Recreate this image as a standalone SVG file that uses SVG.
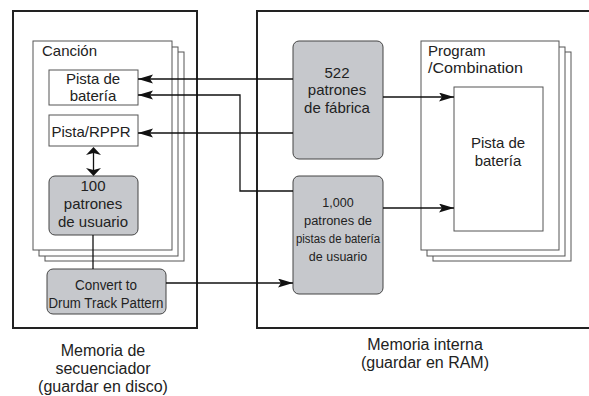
<svg xmlns="http://www.w3.org/2000/svg" width="589" height="396" viewBox="0 0 589 396">
<defs>
<marker id="ah" markerUnits="userSpaceOnUse" markerWidth="16" markerHeight="10" refX="15" refY="4.5" orient="auto">
<path d="M0,0 L15,4.5 L0,9 L3,4.5 Z" fill="#111"/>
</marker>
</defs>
<style>
.outer{fill:#fff;stroke:#222;stroke-width:2}
.sheet{fill:#fff;stroke:#555;stroke-width:1}
.box{fill:#fff;stroke:#555;stroke-width:1}
.gray{fill:#c6c8cc;stroke:#444;stroke-width:1}
.ln{fill:none;stroke:#111;stroke-width:1.3}
text{font-family:"Liberation Sans",Arial,sans-serif;fill:#222}
.t15{font-size:15px;text-anchor:middle}
.t14{font-size:14px;text-anchor:middle}
.t16{font-size:16px;text-anchor:middle}
.t12{font-size:12.5px;text-anchor:middle}
.lft{font-size:15px}
</style>
<rect width="589" height="396" fill="#fff"/>
<g id="seqmem">
<rect class="outer" x="13" y="11" width="184" height="317"/>
</g>
<g id="intmem">
<rect class="outer" x="257" y="11" width="345" height="317"/>
</g>
<g id="cancion">
<rect class="sheet" x="45" y="52" width="139" height="209"/>
<rect class="sheet" x="39" y="47" width="139" height="209"/>
<rect class="sheet" x="33" y="41" width="139" height="209"/>
<text class="lft" x="42" y="56">Canción</text>
</g>
<g id="pista-bateria">
<rect class="box" x="49" y="70" width="89" height="35"/>
<text class="t15"><tspan x="93" y="84">Pista de</tspan><tspan x="93" y="101">batería</tspan></text>
</g>
<g id="pista-rppr">
<rect class="box" x="49" y="115" width="89" height="31"/>
<text class="t15" x="91" y="137">Pista/RPPR</text>
</g>
<g id="patrones-usuario">
<rect class="gray" x="49" y="176" width="89" height="59" rx="6"/>
<text class="t15"><tspan x="93" y="191">100</tspan><tspan x="93" y="209">patrones</tspan><tspan x="93" y="227">de usuario</tspan></text>
</g>
<g id="convert">
<rect class="gray" x="47" y="269" width="119" height="45" rx="6"/>
<text class="t14"><tspan x="106" y="290" textLength="62" lengthAdjust="spacingAndGlyphs">Convert to</tspan><tspan x="106" y="308" textLength="115" lengthAdjust="spacingAndGlyphs">Drum Track Pattern</tspan></text>
</g>
<g id="fabrica">
<rect class="gray" x="293" y="41" width="90" height="118" rx="6"/>
<text class="t15"><tspan x="337" y="78">522</tspan><tspan x="337" y="95">patrones</tspan><tspan x="337" y="113">de fábrica</tspan></text>
</g>
<g id="pistas-usuario">
<rect class="gray" x="293" y="176" width="90" height="118" rx="6"/>
<text class="t12"><tspan x="338" y="207">1,000</tspan><tspan x="338" y="225" textLength="68" lengthAdjust="spacingAndGlyphs">patrones de</tspan><tspan x="338" y="243" textLength="84" lengthAdjust="spacingAndGlyphs">pistas de batería</tspan><tspan x="338" y="261">de usuario</tspan></text>
</g>
<g id="program">
<rect class="sheet" x="433" y="52" width="138" height="209"/>
<rect class="sheet" x="427" y="47" width="138" height="209"/>
<rect class="sheet" x="421" y="41" width="138" height="209"/>
<text class="lft"><tspan x="428" y="56">Program</tspan><tspan x="428" y="73" textLength="95" lengthAdjust="spacingAndGlyphs">/Combination</tspan></text>
</g>
<g id="prog-pista">
<rect class="box" x="454" y="87" width="89" height="144"/>
<text class="t15"><tspan x="498" y="148">Pista de</tspan><tspan x="498" y="166">batería</tspan></text>
</g>
<g id="connectors">
<line class="ln" x1="293" y1="79" x2="138" y2="79" marker-end="url(#ah)"/>
<polyline class="ln" points="293,191 240,191 240,95 138,95" marker-end="url(#ah)"/>
<line class="ln" x1="293" y1="133" x2="138" y2="133" marker-end="url(#ah)"/>
<line class="ln" x1="383" y1="97" x2="454" y2="97" marker-end="url(#ah)"/>
<line class="ln" x1="383" y1="208" x2="454" y2="208" marker-end="url(#ah)"/>
<line class="ln" x1="166" y1="283" x2="293" y2="283" marker-end="url(#ah)"/>
<line class="ln" x1="93" y1="235" x2="93" y2="269"/>
<line class="ln" x1="93.5" y1="152" x2="93.5" y2="171"/>
<path d="M86,155 L93.5,147 L101,155 L93.5,153 Z" fill="#111"/>
<path d="M86,168 L93.5,176 L101,168 L93.5,170 Z" fill="#111"/>
</g>
<g id="labels">
<text class="t16"><tspan x="103" y="356">Memoria de</tspan><tspan x="103" y="374">secuenciador</tspan><tspan x="103" y="392">(guardar en disco)</tspan></text>
<text class="t16"><tspan x="425" y="350">Memoria interna</tspan><tspan x="425" y="368">(guardar en RAM)</tspan></text>
</g>
</svg>
